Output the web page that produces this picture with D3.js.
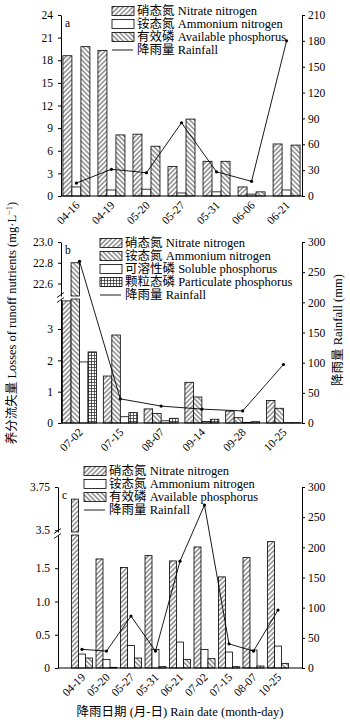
<!DOCTYPE html>
<html>
<head>
<meta charset="utf-8">
<script src="https://cdn.jsdelivr.net/npm/d3@7"></script>
<style>
  body { margin: 0; background: #fff; }
  svg text { font-family: 'Liberation Serif', 'Times New Roman', 'Noto Sans CJK SC', serif; fill: #000; }
</style>
</head>
<body>
<svg id="chart" width="350" height="722"></svg>
<script>
// ---------- data ----------
// panel a
const datesA = ["04-16", "04-19", "05-20", "05-27", "05-31", "06-06", "06-21"];
const nitrateA = [18.6, 19.3, 8.2, 3.9, 4.6, 1.2, 6.9];
const ammoniumA = [1.2, 0.8, 0.9, 0.4, 0.55, 0.25, 0.8];
const phosA = [19.8, 8.1, 6.6, 10.2, 4.6, 0.55, 6.75];
const rainA = [15, 31, 27, 85, 28, 17, 180];
const leftTicksA = [0, 3, 6, 9, 12, 15, 18, 21, 24];
const rightTicksA = [0, 30, 60, 90, 120, 150, 180, 210];

// panel b
const datesB = ["07-02", "07-15", "08-07", "09-14", "09-28", "10-25"];
const nitrateB = [3.9, 1.5, 0.45, 1.3, 0.38, 0.72];
const ammoniumB = [22.8, 2.81, 0.3, 0.83, 0.17, 0.47];
const solubleB = [1.95, 0.2, 0.07, 0.05, 0.02, 0.01];
const particB = [2.27, 0.33, 0.15, 0.12, 0.04, 0.01];
const rainB = [268, 40, 28, 23, 20, 97];
const lowTicksB = [0, 1, 2, 3];
const highTicksB = [22.6, 22.8, 23.0];
const rightTicksB = [0, 50, 100, 150, 200, 250, 300];

// panel c
const datesC = ["04-19", "05-20", "05-27", "05-31", "06-21", "07-02", "07-15", "08-07", "10-25"];
const nitrateC = [3.68, 1.64, 1.51, 1.69, 1.61, 1.82, 1.37, 1.66, 1.9];
const ammoniumC = [0.21, 0.13, 0.34, 0.28, 0.39, 0.28, 0.24, 0.27, 0.33];
const phosC = [0.15, 0.01, 0.15, 0.02, 0.13, 0.14, 0.02, 0.03, 0.07];
const rainC = [31, 28, 86, 28, 177, 270, 40, 28, 96];
const lowTicksC = [0, 0.5, 1.0, 1.5];
const highTicksC = [3.5, 3.75];
const rightTicksC = [0, 50, 100, 150, 200, 250, 300];

const FS = 11.5;   // tick labels
const LFS = 12.5;  // legend / titles
const svg = d3.select("#chart");

// ---------- hatch patterns ----------
const defs = svg.append("defs");
function hatch(id, angle, gap) {
  const p = defs.append("pattern").attr("id", id)
    .attr("patternUnits", "userSpaceOnUse")
    .attr("width", gap).attr("height", gap)
    .attr("patternTransform", `rotate(${angle})`);
  p.append("rect").attr("width", gap).attr("height", gap).attr("fill", "#fff");
  p.append("line").attr("x1", gap / 2).attr("x2", gap / 2).attr("y1", 0).attr("y2", gap)
    .attr("stroke", "#222").attr("stroke-width", 0.8);
}
hatch("fwd", 45, 3.4);
hatch("back", -45, 3.4);
const grid = defs.append("pattern").attr("id", "grid")
  .attr("patternUnits", "userSpaceOnUse").attr("width", 3).attr("height", 3);
grid.append("rect").attr("width", 3).attr("height", 3).attr("fill", "#fff");
grid.append("path").attr("d", "M1.5,0V3M0,1.5H3").attr("stroke", "#222").attr("stroke-width", 0.7);

function styleAxis(sel) {
  sel.attr("font-size", FS);
  sel.selectAll("path,line").attr("stroke", "#000");
}

function drawPanel(p) {
  const g = svg.append("g");
  const x = d3.scalePoint().domain(p.dates).range([p.left, p.right]).padding(p.pad);
  const sub = d3.scaleBand().domain(p.series.map(s => s.label)).range([-p.groupW / 2, p.groupW / 2]);
  const yLo = d3.scaleLinear().domain(p.loDomain).range([p.bottom, p.loTop]);
  const yHi = p.hiDomain ? d3.scaleLinear().domain(p.hiDomain).range([p.hiBottom, p.top]) : null;
  const yR = d3.scaleLinear().domain(p.rainDomain).range([p.bottom, p.top]);
  const loMax = p.loDomain[1];

  const rows = p.series.flatMap(s => s.values.map((v, i) => ({ s, date: p.dates[i], v })));

  // lower part of every bar
  g.append("g").selectAll("rect").data(rows).join("rect")
    .attr("x", d => x(d.date) + sub(d.s.label))
    .attr("width", sub.bandwidth())
    .attr("y", d => yLo(Math.min(d.v, loMax)))
    .attr("height", d => p.bottom - yLo(Math.min(d.v, loMax)))
    .attr("fill", d => d.s.fill)
    .attr("stroke", "#000").attr("stroke-width", 0.8);

  // upper part for bars that cross the axis break
  if (yHi) {
    g.append("g").selectAll("rect").data(rows.filter(d => d.v > loMax)).join("rect")
      .attr("x", d => x(d.date) + sub(d.s.label))
      .attr("width", sub.bandwidth())
      .attr("y", d => yHi(d.v))
      .attr("height", d => p.hiBottom - yHi(d.v))
      .attr("fill", d => d.s.fill)
      .attr("stroke", "#000").attr("stroke-width", 0.8);
  }

  // left axis
  g.append("g").attr("transform", `translate(${p.left},0)`)
    .call(d3.axisLeft(yLo).tickValues(p.loTicks).tickFormat(p.fmt).tickSize(3).tickPadding(5).tickSizeOuter(0))
    .call(styleAxis);
  if (yHi) {
    g.append("g").attr("transform", `translate(${p.left},0)`)
      .call(d3.axisLeft(yHi).tickValues(p.hiTicks).tickFormat(p.fmtHi).tickSize(3).tickPadding(5).tickSizeOuter(0))
      .call(styleAxis);
    // break marks
    [p.loTop + 1, p.hiBottom - 1].forEach(yy => {
      g.append("line").attr("x1", p.left - 4).attr("x2", p.left + 3)
        .attr("y1", yy + 2.5).attr("y2", yy - 2.5)
        .attr("stroke", "#000").attr("stroke-width", 0.9);
    });
  }

  // right axis
  g.append("g").attr("transform", `translate(${p.right},0)`)
    .call(d3.axisRight(yR).tickValues(p.rightTicks).tickSize(3).tickPadding(3).tickSizeOuter(0))
    .call(styleAxis);

  // bottom axis line
  g.append("line").attr("x1", p.left).attr("x2", p.right)
    .attr("y1", p.bottom).attr("y2", p.bottom).attr("stroke", "#000");

  // x labels
  g.append("g").selectAll("text").data(p.dates).join("text")
    .attr("transform", d => `translate(${x(d) + 4},${p.bottom + 10}) rotate(-45)`)
    .attr("text-anchor", "end")
    .attr("font-size", FS)
    .text(d => d);

  // rainfall line
  const pts = p.rain.map((v, i) => ({ date: p.dates[i], v }));
  g.append("path").datum(pts)
    .attr("fill", "none").attr("stroke", "#000").attr("stroke-width", 0.9)
    .attr("d", d3.line().x(d => x(d.date)).y(d => yR(d.v)));
  g.append("g").selectAll("circle").data(pts).join("circle")
    .attr("cx", d => x(d.date)).attr("cy", d => yR(d.v)).attr("r", 1.6).attr("fill", "#000");

  // panel letter
  g.append("text").attr("x", p.left + 4).attr("y", p.top + 12).attr("font-size", FS).text(p.letter);

  // legend
  const items = p.series.map(s => ({ label: s.label, fill: s.fill }))
    .concat([{ label: "降雨量 Rainfall", line: true }]);
  const lg = g.append("g").attr("transform", `translate(${p.legend[0]},${p.legend[1]})`);
  const it = lg.selectAll("g").data(items).join("g")
    .attr("transform", (d, i) => `translate(0,${i * 13})`);
  it.filter(d => !d.line).append("rect")
    .attr("x", 0).attr("y", -4.5).attr("width", 22).attr("height", 9)
    .attr("fill", d => d.fill).attr("stroke", "#000").attr("stroke-width", 0.8);
  it.filter(d => d.line).append("line")
    .attr("x1", 0).attr("x2", 21).attr("y1", 0).attr("y2", 0)
    .attr("stroke", "#000").attr("stroke-width", 0.9);
  it.append("text").attr("x", 25).attr("dy", "0.35em").attr("font-size", LFS).text(d => d.label);
}

// ---------- panel a ----------
drawPanel({
  letter: "a", dates: datesA, left: 61, right: 302, top: 15, bottom: 196, pad: 0.44, groupW: 27,
  loDomain: [0, 24], loTop: 15, loTicks: leftTicksA, fmt: d3.format("d"),
  rainDomain: [0, 210], rightTicks: rightTicksA, rain: rainA,
  legend: [112, 11],
  series: [
    { label: "硝态氮 Nitrate nitrogen", fill: "url(#fwd)", values: nitrateA },
    { label: "铵态氮 Ammonium nitrogen", fill: "#fff", values: ammoniumA },
    { label: "有效磷 Available phosphorus", fill: "url(#back)", values: phosA }
  ]
});

// ---------- panel b ----------
drawPanel({
  letter: "b", dates: datesB, left: 61, right: 302, top: 242, bottom: 423, pad: 0.455, groupW: 34,
  loDomain: [0, 3.96], loTop: 299, loTicks: lowTicksB, fmt: d3.format("d"),
  hiDomain: [22.48, 23.0], hiBottom: 296, hiTicks: highTicksB, fmtHi: d3.format(".1f"),
  rainDomain: [0, 300], rightTicks: rightTicksB, rain: rainB,
  legend: [100, 243],
  series: [
    { label: "硝态氮 Nitrate nitrogen", fill: "url(#fwd)", values: nitrateB },
    { label: "铵态氮 Ammonium nitrogen", fill: "url(#back)", values: ammoniumB },
    { label: "可溶性磷 Soluble phosphorus", fill: "#fff", values: solubleB },
    { label: "颗粒态磷 Particulate phosphorus", fill: "url(#grid)", values: particB }
  ]
});

// ---------- panel c ----------
drawPanel({
  letter: "c", dates: datesC, left: 58, right: 302, top: 487, bottom: 668, pad: 0.98, groupW: 21,
  loDomain: [0, 2.0], loTop: 535, loTicks: lowTicksC, fmt: d => d === 0 ? "0" : d.toFixed(1),
  hiDomain: [3.49, 3.75], hiBottom: 532, hiTicks: highTicksC, fmtHi: d => String(d),
  rainDomain: [0, 300], rightTicks: rightTicksC, rain: rainC,
  legend: [84, 471],
  series: [
    { label: "硝态氮 Nitrate nitrogen", fill: "url(#fwd)", values: nitrateC },
    { label: "铵态氮 Ammonium nitrogen", fill: "#fff", values: ammoniumC },
    { label: "有效磷 Available phosphorus", fill: "url(#back)", values: phosC }
  ]
});

// ---------- axis titles ----------
const yTitle = svg.append("text")
  .attr("transform", "translate(16,323) rotate(-90)")
  .attr("text-anchor", "middle").attr("font-size", LFS);
yTitle.append("tspan").text("养分流失量 Losses of runoff nutrients (mg·L");
yTitle.append("tspan").attr("dy", -4).attr("font-size", 8.5).text("−1");
yTitle.append("tspan").attr("dy", 4).text(")");

svg.append("text")
  .attr("transform", "translate(342,330) rotate(-90)")
  .attr("text-anchor", "middle").attr("font-size", LFS)
  .text("降雨量 Rainfall (mm)");

svg.append("text")
  .attr("x", 180).attr("y", 716)
  .attr("text-anchor", "middle").attr("font-size", LFS)
  .text("降雨日期 (月-日) Rain date (month-day)");
</script>
</body>
</html>
